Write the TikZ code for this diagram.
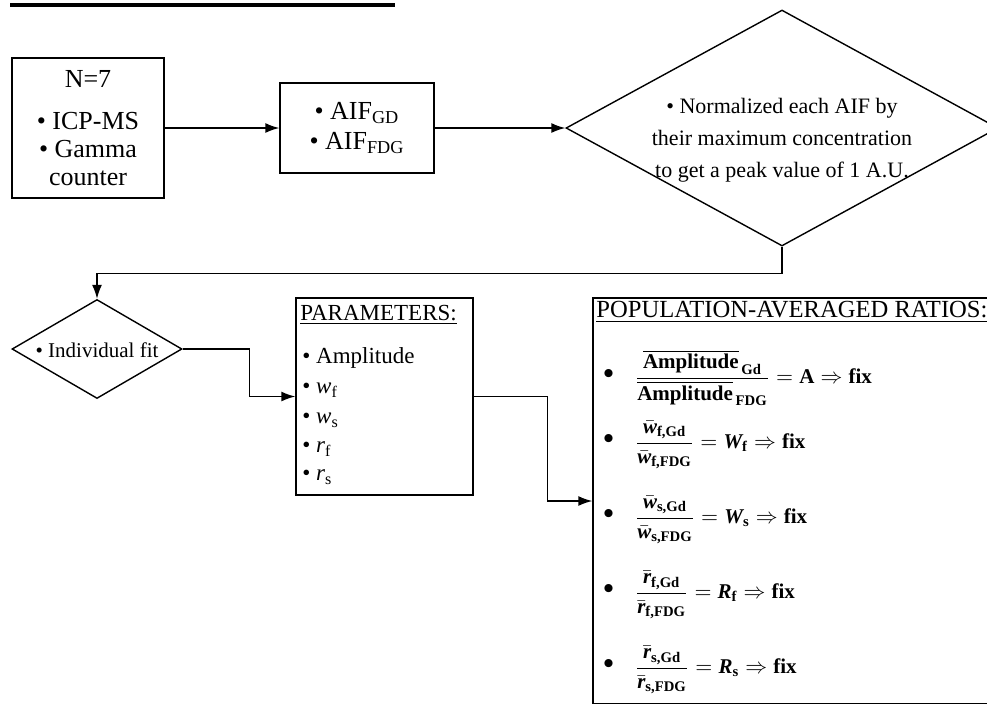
\documentclass[tikz,border=0pt]{standalone}
\usepackage{fontspec}
\setmainfont{Liberation Serif}
\usepackage{amsmath}
\usetikzlibrary{shapes.geometric,arrows.meta,positioning}

\tikzset{
    box/.style={draw, line width=0.7pt, inner sep=0pt, align=center},
    decision/.style={draw, diamond, line width=0.7pt, inner sep=0pt},
    flow/.style={line width=0.7pt, -{Latex[length=7pt,width=5pt]}},
    item/.style={anchor=west, inner sep=0pt, font=\fontsize{11.5}{13}\selectfont},
    ratio/.style={anchor=west, inner sep=0pt, font=\fontsize{10.5}{12}\selectfont\bfseries},
}
\newcommand{\bigdot}{{\fontsize{15}{15}\selectfont\textbullet}}

\begin{document}
\begin{tikzpicture}[x=0.5pt, y=-0.5pt]
    % 1) Page size and the heavy rule on top
    \useasboundingbox (0,0) rectangle (987,703);
    \clip (0,0) rectangle (987,703);
    \draw[line width=2pt] (10,5) -- (395,5);

    % 2) First row: sources, AIF box, normalization
    \node[box, minimum width=76pt, minimum height=70pt, font=\fontsize{13}{14}\selectfont] (src) at (88,128)
        {N=7\\[7pt] \textbullet\ ICP-MS\\ \textbullet\ Gamma\\ counter};
    \node[box, minimum width=77pt, minimum height=45pt, font=\fontsize{13}{15}\selectfont] (aif) at (357,128)
        {\textbullet\ AIF\textsubscript{GD}\\ \textbullet\ AIF\textsubscript{FDG}};
    \node[decision, minimum width=216pt, minimum height=118pt] (norm) at (782,128) {};
    \node[align=center, font=\fontsize{11}{16}\selectfont] (normtext) at (782,140)
        {\textbullet\ Normalized each AIF by\\ their maximum concentration\\ to get a peak value of 1 A.U.};

    % 3) Second row: fit, parameters, ratios
    \node[decision, minimum width=85pt, minimum height=49.5pt] (fit) at (97,349) {};
    \node[font=\fontsize{10.5}{12}\selectfont] (fittext) at (97,350) {\textbullet\ Individual fit};

    \node[box, minimum width=88.5pt, minimum height=98.5pt] (par) at (384.5,396.5) {};
    \node[item] (partitle) at (300,315) {\underline{PARAMETERS:}};
    \foreach \name/\txt/\y in {amp/Amplitude/358,
                               wf/{\textit{w}\textsubscript{f}}/390,
                               ws/{\textit{w}\textsubscript{s}}/420,
                               rf/{\textit{r}\textsubscript{f}}/449,
                               rs/{\textit{r}\textsubscript{s}}/477} {
        \node[item] (p\name) at (302,\y) {\textbullet\ \txt};
    }

    \node[box, minimum width=203.5pt, minimum height=203pt] (avg) at (796.5,501) {};
    \node[item, font=\fontsize{12.3}{14}\selectfont] (avgtitle) at (596,312) {\underline{POPULATION-AVERAGED RATIOS:}};
    \node[ratio] (ramp) at (603,378)
        {\bigdot\quad $\dfrac{\overline{\text{Amplitude}}_{\,\text{Gd}}}{\overline{\text{Amplitude}}_{\,\text{FDG}}} = \text{A} \Rightarrow \text{fix}$};
    \node[ratio] (rwf) at (603,445)
        {\bigdot\quad $\dfrac{\bar{\textit{w}}_{\text{f,Gd}}}{\bar{\textit{w}}_{\text{f,FDG}}} = \textit{W}_{\text{f}} \Rightarrow \text{fix}$};
    \node[ratio] (rws) at (603,520)
        {\bigdot\quad $\dfrac{\bar{\textit{w}}_{\text{s,Gd}}}{\bar{\textit{w}}_{\text{s,FDG}}} = \textit{W}_{\text{s}} \Rightarrow \text{fix}$};
    \node[ratio] (rrf) at (603,595)
        {\bigdot\quad $\dfrac{\bar{\textit{r}}_{\text{f,Gd}}}{\bar{\textit{r}}_{\text{f,FDG}}} = \textit{R}_{\text{f}} \Rightarrow \text{fix}$};
    \node[ratio] (rrs) at (603,670)
        {\bigdot\quad $\dfrac{\bar{\textit{r}}_{\text{s,Gd}}}{\bar{\textit{r}}_{\text{s,FDG}}} = \textit{R}_{\text{s}} \Rightarrow \text{fix}$};

    % 4) Connectors
    \draw[flow] (src.east) -- (aif.west);
    \draw[flow] (aif.east) -- (norm.west);
    \draw[flow] (norm.south) -- ++(0,27) -| (fit.north);
    \draw[flow] (fit.east) -- ++(67,0) |- (par.west);
    \draw[flow] (par.east) -- ++(74,0) |- (avg.west);
\end{tikzpicture}
\end{document}
